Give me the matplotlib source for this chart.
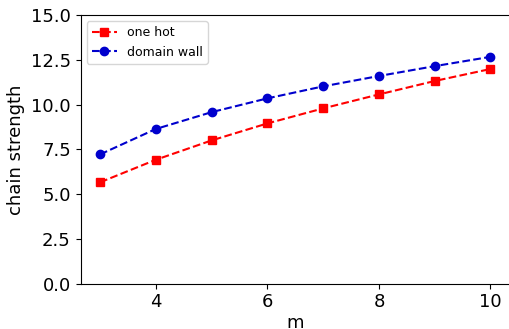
import matplotlib
matplotlib.use("Agg")
import matplotlib.pyplot as plt

m = [3, 4, 5, 6, 7, 8, 9, 10]
one_hot = [5.66, 6.92, 8.00, 8.95, 9.79, 10.57, 11.32, 11.99]
domain_wall = [7.22, 8.64, 9.58, 10.35, 11.02, 11.60, 12.15, 12.67]

fig = plt.figure(figsize=(5.10, 3.29), dpi=100)
ax = fig.add_axes([0.158, 0.138, 0.842, 0.816])

ax.plot(m, one_hot, "--s", color="red", markersize=6, label="one hot")
ax.plot(m, domain_wall, "--o", color="mediumblue", markersize=6, label="domain wall")

ax.set_ylim(0, 15)
ax.set_yticks([0, 2.5, 5, 7.5, 10, 12.5, 15])
ax.set_xticks([4, 6, 8, 10])
ax.tick_params(labelsize=13)
ax.set_xlabel("m", fontsize=13, labelpad=2)
ax.set_ylabel("chain strength", fontsize=13)
ax.legend(loc="upper left", fontsize=9)

fig.savefig("out.png", dpi=100)
